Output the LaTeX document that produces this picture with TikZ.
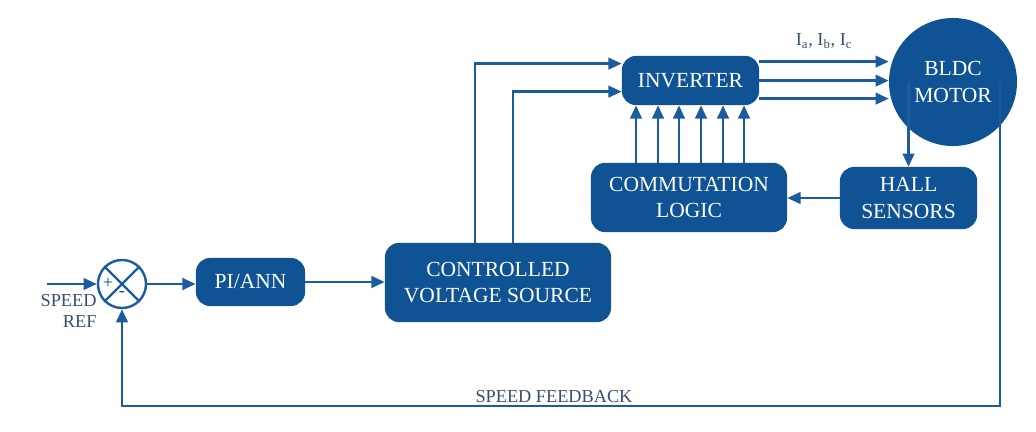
\documentclass[tikz,border=0pt]{standalone}
\usepackage{fontspec}
\setmainfont{Liberation Serif}
\usetikzlibrary{arrows.meta,positioning,calc}
\definecolor{navy}{HTML}{0F5394}
\definecolor{lineblue}{HTML}{1A5C9E}
\definecolor{labelgray}{HTML}{36506E}
\tikzset{box/.style={fill=navy,rounded corners=10pt,text=white,align=center,inner sep=0pt,
  font=\fontsize{15.3}{19}\selectfont},
  arrow/.style={-{Triangle[length=3.3mm,width=2.9mm]},line width=1.7pt,draw=lineblue},
  wire/.style={line width=1.7pt,draw=lineblue},
  sign/.style={text=navy,inner sep=0pt,font=\fontsize{13}{13}\selectfont},
  lbl/.style={text=labelgray,font=\fontsize{13}{15}\selectfont,inner sep=0pt}}

\begin{document}
\begin{tikzpicture}[x=0.025cm,y=-0.025cm]
\useasboundingbox (0,0) rectangle (1036,432);
% blocks
\node[circle,wire,fill=white,minimum size=1.2cm,inner sep=0pt] (sum) at (122,284) {};
\draw[wire] (sum.north west) -- (sum.south east) (sum.north east) -- (sum.south west);
\node[sign] (plus) at ($(sum.center)+(-14,-1)$) {+};
\node[sign] (minus) at ($(sum.center)+(0,10)$) {-};
\node[box,minimum width=2.73cm,minimum height=1.2cm] (pi) at (250.5,282) {PI/ANN};
\node[box,minimum width=5.65cm,minimum height=1.98cm] (cvs) at (498,282.5) {CONTROLLED\\VOLTAGE SOURCE};
\node[box,minimum width=3.43cm,minimum height=1.23cm] (inv) at (690.5,80.5) {INVERTER};
\node[box,minimum width=4.9cm,minimum height=1.73cm] (com) at (689,197.5) {COMMUTATION\\LOGIC};
\node[box,minimum width=3.43cm,minimum height=1.55cm] (hall) at (908.5,198) {HALL\\SENSORS};
\node[box,circle,minimum size=3.2cm] (motor) at (953,82) {BLDC\\MOTOR};
% reference input
\coordinate (ref) at ($(sum.west)+(-50,0)$);
\draw[arrow] (ref) -- (sum.west);
\node[lbl,anchor=north east,align=right] (reflbl) at ($(sum.west)+(0,10)$) {SPEED\\REF};
% forward path
\draw[arrow] (sum.east) -- (sum.east -| pi.west);
\draw[arrow] (pi.east) -- (pi.east -| cvs.west);
\draw[arrow] ($(cvs.north west)+(90,0)$) |- ($(inv.north west)+(0,8)$);
\draw[arrow] ($(cvs.north west)+(128,0)$) |- ($(inv.north west)+(0,36)$);
\foreach \dy in {6,25,43}
  \draw[arrow] ($(inv.north east)+(0,\dy)$) -- ($(motor.west |- inv.north)+(0,\dy)$);
\node[lbl,anchor=base] (phases) at ($(inv.north east)!0.5!(motor.west |- inv.north)+(0,-10)$)
  {I\textsubscript{a}, I\textsubscript{b}, I\textsubscript{c}};
\foreach \dx [count=\i] in {-53,-31,-10,12,34,55}{
  \coordinate (g\i) at ($(com.north)+(\dx,0)$);
  \draw[arrow] (g\i) -- (g\i |- inv.south);
}
% sensing and feedback
\draw[arrow] (motor.center -| hall.north) -- (hall.north);
\draw[arrow] (hall.west) -- (hall.west -| com.east);
\draw[arrow] ($(motor.center)+(47,0)$) -- ++(0,324) -| (sum.south)
  node[lbl,pos=0.254,above=1.5pt] {SPEED FEEDBACK};
\end{tikzpicture}
\end{document}
